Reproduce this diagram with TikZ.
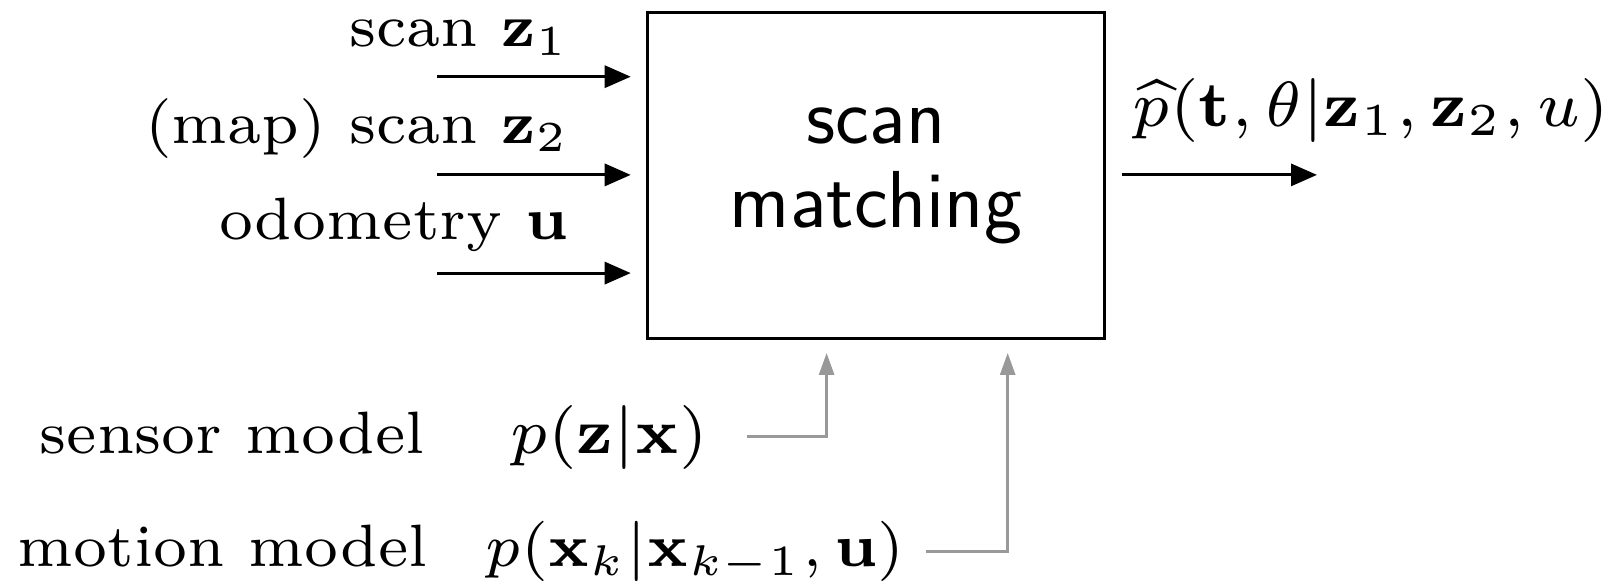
\documentclass[tikz,border=0pt]{standalone}
\usepackage{amsmath}
\usepackage{graphicx}
\usetikzlibrary{arrows.meta}

% labels are set small and blown up
\newcommand{\lbltext}[2][2.43]{\scalebox{#1}{\fontsize{7}{8.4}\selectfont #2}}

\tikzset{
  lbl/.style={inner sep=0pt},
  inarrow/.style={line width=0.9pt, -{Triangle[length=0.26cm, width=0.22cm]}},
  feedarrow/.style={line width=0.8pt, gray!80, -{Triangle[length=0.22cm, width=0.15cm]}},
}

\begin{document}
\begin{tikzpicture}
  \useasboundingbox (0,0) rectangle (16.04,5.83);

  % matching block
  \node (sm) at (8.76,4.075) [draw, line width=1pt, minimum width=4.57cm, minimum height=3.26cm,
        align=center, font=\sffamily\fontsize{23}{23.9}\selectfont] {scan\\matching};

  % inputs
  \coordinate (in1) at (4.37,5.063);
  \coordinate (in2) at (4.37,4.081);
  \coordinate (in3) at (4.37,3.099);
  \draw[inarrow, shorten >=0.15cm] (in1) -- (in1 -| sm.west);
  \draw[inarrow, shorten >=0.15cm] (in2) -- (in2 -| sm.west);
  \draw[inarrow, shorten >=0.15cm] (in3) -- (in3 -| sm.west);

  \node (z1) at (5.70,5.363) [lbl, anchor=base east] {\lbltext{scan $\mathbf{z}_1$}};
  \node (z2) at (5.70,4.397) [lbl, anchor=base east] {\lbltext{(map) scan $\mathbf{z}_2$}};
  \node (odo) at (5.69,3.43) [lbl, anchor=base east] {\lbltext{odometry $\mathbf{u}$}};

  % output
  \coordinate (out) at (13.17,4.081);
  \draw[inarrow, shorten <=0.16cm] (sm.east |- out) -- (out);
  \node (est) at (11.32,4.563) [lbl, anchor=base west]
        {\lbltext[2.6]{$\widehat{p}(\mathbf{t},\theta|\mathbf{z}_1,\mathbf{z}_2,u)$}};

  % models
  \node (sensor) at (0.39,1.297) [lbl, anchor=base west] {\lbltext{sensor model}};
  \node (psens) at (5.10,1.297) [lbl, anchor=base west] {\lbltext[2.6]{$p(\mathbf{z}|\mathbf{x})$}};
  \node (motion) at (0.17,0.163) [lbl, anchor=base west] {\lbltext{motion model}};
  \node (pmot) at (4.85,0.163) [lbl, anchor=base west] {\lbltext[2.45]{$p(\mathbf{x}_k|\mathbf{x}_{k-1},\mathbf{u})$}};

  \coordinate (s0) at (7.47,1.462);
  \coordinate (s1) at (8.266,2.30);
  \coordinate (m0) at (9.26,0.316);
  \coordinate (m1) at (10.077,2.30);
  \draw[feedarrow] (s0) -| (s1);
  \draw[feedarrow] (m0) -| (m1);
\end{tikzpicture}
\end{document}
